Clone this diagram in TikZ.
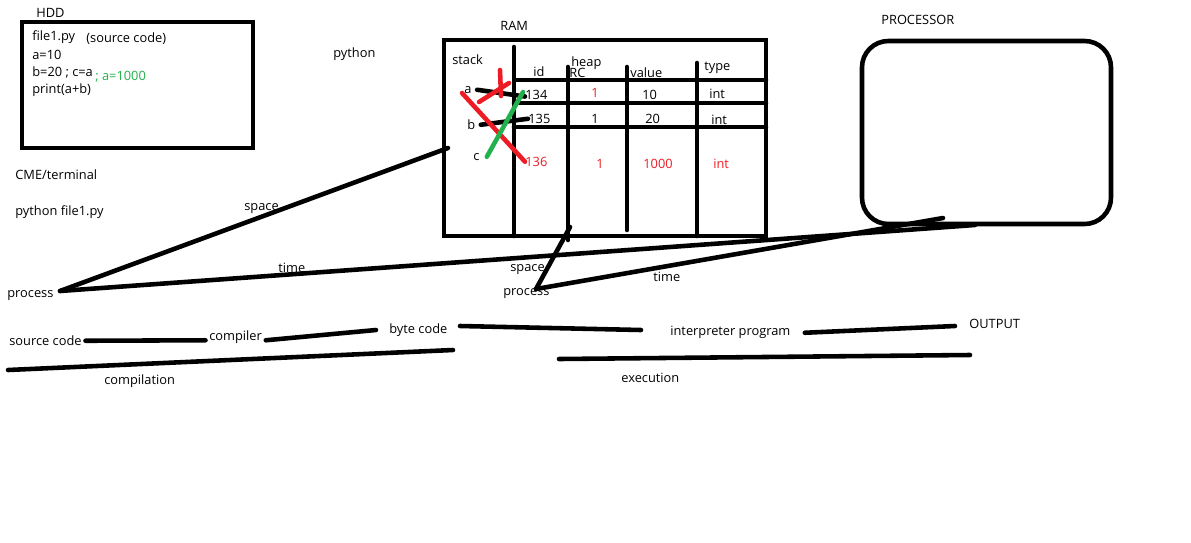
\documentclass[tikz,border=0pt]{standalone}
\usepackage{fontspec}
\setmainfont{Open Sans}
\definecolor{paintred}{RGB}{237,28,36}
\definecolor{paintgreen}{RGB}{34,177,76}
\tikzset{
  lbl/.style={inner sep=0pt, anchor=west, yshift=-1pt, font=\fontsize{7.3}{8.5}\selectfont},
  redlbl/.style={lbl, text=paintred},
  pen/.style={line width=2.6pt, line cap=round},
  redpen/.style={pen, draw=paintred},
  greenpen/.style={pen, draw=paintgreen},
}

\begin{document}
\begin{tikzpicture}[x=0.02cm, y=-0.02cm]
\useasboundingbox (0,0) rectangle (1191,542);

% HDD
\node[lbl] (hdd) at (36,11) {HDD};
\draw[pen] (22,22) rectangle (253,148);
\node[lbl] (file) at (32,35) {file1.py};
\node[lbl] (src) at (86,37) {(source code)};
\node[lbl] (l1) at (32,53) {a=10};
\node[lbl] (l2) at (32,71) {b=20 ; c=a};
\node[lbl, text=paintgreen] (l2b) at (95,75) {; a=1000};
\node[lbl] (l3) at (32,88) {print(a+b)};

\node[lbl] (py) at (333,52) {python};
\node[lbl] (cme) at (15,173) {CME/terminal};
\node[lbl] (cmd) at (15,210) {python file1.py};

% RAM
\node[lbl] (ram) at (500,24) {RAM};
\draw[pen] (444,40) rectangle (766,236);
\draw[pen] (514,47) -- (514,236);
\draw[pen] (568,67) -- (568,240);
\draw[pen] (627,67) -- (627,230);
\draw[pen] (697,63) -- (697,236);
\draw[pen] (516,80) -- (766,80);
\draw[pen] (514,103) -- (766,103);
\draw[pen] (514,127) -- (766,127);

\node[lbl] (stack) at (452,58) {stack};
\node[lbl] (heap) at (571,61) {heap};
\node[lbl] (id) at (533,70) {id};
\node[lbl] (rc) at (569,71) {RC};
\node[lbl] (val) at (630,71) {value};
\node[lbl] (typ) at (704,66) {type};

\node[lbl] (i134) at (525,93) {134};
\node[redlbl] (r134) at (591,91) {1};
\node[lbl] (v134) at (642,93) {10};
\node[lbl] (t134) at (709,92) {int};
\node[lbl] (i135) at (528,117) {135};
\node[lbl] (r135) at (591,117) {1};
\node[lbl] (v135) at (645,117) {20};
\node[lbl] (t135) at (711,118) {int};
\node[redlbl] (i136) at (525,160) {136};
\node[redlbl] (r136) at (596,162) {1};
\node[redlbl] (v136) at (643,162) {1000};
\node[redlbl] (t136) at (713,162) {int};

\node[lbl] (va) at (464,88) {a};
\node[lbl] (vb) at (467,123) {b};
\node[lbl] (vc) at (473,155) {c};

% references from the stack
\draw[pen] ([xshift=3]va.east) -- ([yshift=-1]i134.west);
\draw[pen] ([xshift=3]vb.east) -- (i135.west);
\draw[redpen] (500,70) -- (501,96);
\draw[redpen] (479,102) -- (509,83);
\draw[redpen] (462,93) -- (i136.west);
\draw[greenpen] ([xshift=4]vc.east) -- (523,92);

% PROCESSOR
\node[lbl] (cpu) at (881,18) {PROCESSOR};
\draw[pen, rounded corners=15] (862,41) rectangle (1111,224);

% process lines
\node[lbl] (procL) at (7,294) {process};
\node[lbl] (spaceL) at (244,207) {space};
\node[lbl] (timeL) at (278,266) {time};
\coordinate (pL) at (60,291);
\coordinate (ramL) at (448,148);
\coordinate (cpuL) at (975,225);
\draw[pen] (pL) -- (ramL);
\draw[pen] (pL) -- (cpuL);

\node[lbl] (spaceM) at (510,268) {space};
\node[lbl] (procM) at (503,292) {process};
\node[lbl] (timeM) at (653,275) {time};
\coordinate (pM) at (536,289);
\coordinate (ramM) at (570,227);
\coordinate (cpuM) at (943,218);
\draw[pen] (pM) -- (ramM);
\draw[pen] (pM) -- (cpuM);

% pipeline
\node[lbl] (srcc) at (9,339) {source code};
\node[lbl] (comp) at (209,335) {compiler};
\node[lbl] (byte) at (389,328) {byte code};
\node[lbl] (interp) at (670,331) {interpreter program};
\node[lbl] (out) at (969,322) {OUTPUT};
\draw[pen] ([xshift=2]srcc.east) -- ([xshift=-2,yshift=-2]comp.west);
\draw[pen] ([xshift=2,yshift=-2]comp.east) -- (376,330);
\draw[pen] (460,326) -- (641,330);
\draw[pen] ([xshift=8]interp.east) -- (955,326);

\node[lbl] (compil) at (104,379) {compilation};
\node[lbl] (exec) at (621,376) {execution};
\draw[pen] (8,370) -- (453,350);
\draw[pen] (559,359) -- (970,355);
\end{tikzpicture}
\end{document}
